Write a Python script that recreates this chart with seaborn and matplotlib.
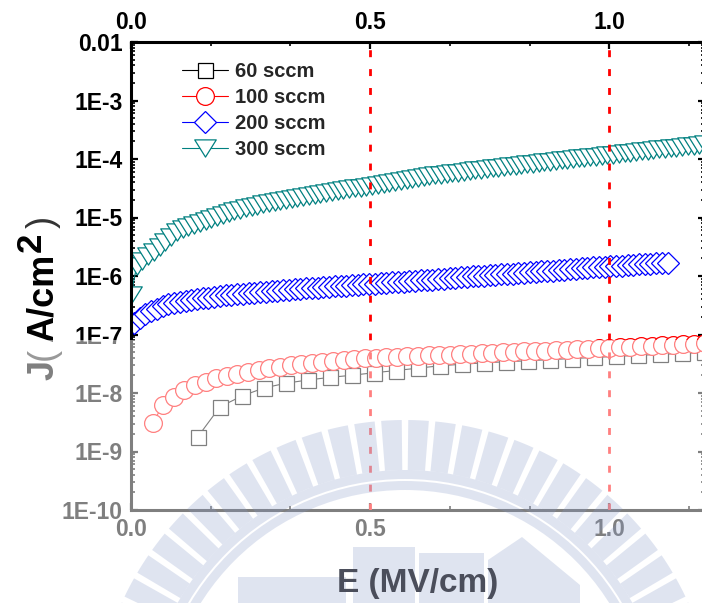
import numpy as np
import matplotlib
matplotlib.use("Agg")
import matplotlib.pyplot as plt
import seaborn as sns
from matplotlib.path import Path
from matplotlib.patches import Rectangle, Wedge, Polygon
from matplotlib.ticker import FixedLocator, FixedFormatter, MultipleLocator, LogLocator, NullFormatter
from matplotlib.transforms import Affine2D

# ---------------- data: J-E curves for four gas flow rates ----------------
LABELS = ["60 sccm", "100 sccm", "200 sccm", "300 sccm"]

E60_START, E60_STEP = 0.14, 0.046
J60 = [1.8e-9, 5.8e-9, 8.9e-9, 1.22e-8, 1.47e-8, 1.67e-8, 1.85e-8, 2.01e-8,
       2.22e-8, 2.42e-8, 2.66e-8, 2.92e-8, 3.10e-8, 3.28e-8, 3.42e-8, 3.56e-8,
       3.72e-8, 3.88e-8, 4.05e-8, 4.22e-8, 4.40e-8, 4.57e-8, 4.75e-8, 4.95e-8]

E100_START, E100_STEP = 0.045, 0.0222
J100 = [3.10e-9, 6.19e-9, 8.65e-9, 1.125e-8, 1.37e-8, 1.56e-8, 1.78e-8, 1.95e-8,
        2.11e-8, 2.31e-8, 2.47e-8, 2.64e-8, 2.82e-8, 3.01e-8, 3.13e-8, 3.30e-8,
        3.43e-8, 3.56e-8, 3.66e-8, 3.81e-8, 3.92e-8, 4.01e-8, 4.07e-8, 4.18e-8,
        4.25e-8, 4.32e-8, 4.39e-8, 4.46e-8, 4.53e-8, 4.60e-8, 4.68e-8, 4.76e-8,
        4.85e-8, 4.94e-8, 5.04e-8, 5.13e-8, 5.22e-8, 5.32e-8, 5.42e-8, 5.52e-8,
        5.62e-8, 5.73e-8, 5.83e-8, 5.94e-8, 6.05e-8, 6.17e-8, 6.28e-8, 6.40e-8,
        6.52e-8, 6.64e-8, 6.76e-8, 6.89e-8, 7.02e-8]

E200_START, E200_STEP = 0.006, 0.012
J200 = [1.57e-7, 1.91e-7, 2.24e-7, 2.52e-7, 2.78e-7, 3.07e-7, 3.26e-7, 3.45e-7,
        3.62e-7, 3.77e-7, 3.92e-7, 4.05e-7, 4.18e-7, 4.29e-7, 4.41e-7, 4.53e-7,
        4.65e-7, 4.75e-7, 4.85e-7, 4.97e-7, 5.06e-7, 5.18e-7, 5.28e-7, 5.41e-7,
        5.52e-7, 5.64e-7, 5.77e-7, 5.86e-7, 5.94e-7, 6.04e-7, 6.14e-7, 6.24e-7,
        6.34e-7, 6.44e-7, 6.53e-7, 6.64e-7, 6.75e-7, 6.86e-7, 6.97e-7, 7.08e-7,
        7.18e-7, 7.29e-7, 7.41e-7, 7.53e-7, 7.66e-7, 7.78e-7, 7.91e-7, 8.05e-7,
        8.18e-7, 8.32e-7, 8.43e-7, 8.57e-7, 8.71e-7, 8.86e-7, 9.01e-7, 9.17e-7,
        9.32e-7, 9.48e-7, 9.64e-7, 9.81e-7, 9.97e-7, 1.01e-6, 1.03e-6, 1.05e-6,
        1.07e-6, 1.09e-6, 1.10e-6, 1.12e-6, 1.14e-6, 1.16e-6, 1.18e-6, 1.20e-6,
        1.22e-6, 1.24e-6, 1.26e-6, 1.29e-6, 1.31e-6, 1.33e-6, 1.35e-6, 1.38e-6,
        1.40e-6, 1.42e-6, 1.44e-6, 1.47e-6, 1.49e-6, 1.51e-6, 1.53e-6, 1.55e-6,
        1.58e-6, 1.60e-6, 1.62e-6, 1.65e-6, 1.67e-6, 1.70e-6]

E300_START, E300_STEP = 0.0, 0.012
J300 = [4.73e-7, 1.48e-6, 1.80e-6, 2.20e-6, 2.57e-6, 3.13e-6, 3.81e-6, 4.65e-6,
        5.65e-6, 6.35e-6, 6.89e-6, 7.45e-6, 8.05e-6, 8.71e-6, 9.42e-6, 1.02e-5,
        1.10e-5, 1.19e-5, 1.27e-5, 1.34e-5, 1.43e-5, 1.51e-5, 1.59e-5, 1.67e-5,
        1.75e-5, 1.84e-5, 1.91e-5, 1.99e-5, 2.07e-5, 2.15e-5, 2.24e-5, 2.33e-5,
        2.43e-5, 2.52e-5, 2.62e-5, 2.73e-5, 2.84e-5, 2.95e-5, 3.05e-5, 3.14e-5,
        3.24e-5, 3.35e-5, 3.45e-5, 3.60e-5, 3.74e-5, 3.89e-5, 4.05e-5, 4.21e-5,
        4.38e-5, 4.55e-5, 4.73e-5, 4.92e-5, 5.12e-5, 5.26e-5, 5.41e-5, 5.56e-5,
        5.71e-5, 5.87e-5, 6.04e-5, 6.21e-5, 6.38e-5, 6.56e-5, 6.75e-5, 6.93e-5,
        7.13e-5, 7.31e-5, 7.50e-5, 7.69e-5, 7.89e-5, 8.11e-5, 8.32e-5, 8.53e-5,
        8.75e-5, 8.97e-5, 9.20e-5, 9.44e-5, 9.68e-5, 9.93e-5, 1.02e-4, 1.05e-4,
        1.07e-4, 1.10e-4, 1.13e-4, 1.16e-4, 1.19e-4, 1.22e-4, 1.25e-4, 1.28e-4,
        1.32e-4, 1.35e-4, 1.39e-4, 1.42e-4, 1.46e-4, 1.50e-4, 1.53e-4, 1.57e-4,
        1.62e-4, 1.66e-4, 1.70e-4, 1.75e-4, 1.79e-4]

Y_TICKS = [1e-10, 1e-9, 1e-8, 1e-7, 1e-6, 1e-5, 1e-4, 1e-3, 1e-2]
Y_TICK_LABELS = ["1E-10", "1E-9", "1E-8", "1E-7", "1E-6", "1E-5", "1E-4", "1E-3", "0.01"]
X_TICKS = [0.0, 0.5, 1.0]
X_TICK_LABELS = ["0.0", "0.5", "1.0"]
REF_FIELDS = [0.5, 1.0]


def sweep(start, step, values):
    return start + step * np.arange(len(values))


# ---------------- styling ----------------
sns.set_theme(style="ticks")
plt.rcParams["font.family"] = ["Liberation Sans", "DejaVu Sans"]
plt.rcParams["font.weight"] = "bold"
plt.rcParams["axes.edgecolor"] = "black"
plt.rcParams["xtick.color"] = "black"
plt.rcParams["ytick.color"] = "black"

W_PX, H_PX = 702, 603
fig = plt.figure(figsize=(W_PX / 100, H_PX / 100), dpi=100)
PX = Affine2D().scale(1 / 100) + fig.dpi_scale_trans  # pixel coordinates, origin bottom-left

ax_left, ax_right, ax_top, ax_bottom = 131, 705, 42, 510
ax = fig.add_axes([ax_left / W_PX, 1 - ax_bottom / H_PX,
                   (ax_right - ax_left) / W_PX, (ax_bottom - ax_top) / H_PX])

tri_down = Path([(-1, 0.8), (1, 0.8), (0, -0.8), (-1, 0.8)],
                [Path.MOVETO, Path.LINETO, Path.LINETO, Path.CLOSEPOLY])

series = [
    (sweep(E60_START, E60_STEP, J60), J60, "black", "s", 10.8),
    (sweep(E100_START, E100_STEP, J100), J100, "red", "o", 12.8),
    (sweep(E200_START, E200_STEP, J200), J200, "blue", "D", 11.0),
    (sweep(E300_START, E300_STEP, J300), J300, "#008080", tri_down, 15.5),
]
for (e, j, col, mk, ms), lab in zip(series, LABELS):
    sns.lineplot(x=e, y=j, ax=ax, color=col, marker=mk, markersize=ms,
                 markerfacecolor="white", markeredgecolor=col, markeredgewidth=0.9,
                 linewidth=0.8, label=lab, estimator=None, sort=False)

for xv in REF_FIELDS:
    ax.axvline(xv, color="red", linewidth=2.0, dashes=(2.5, 4.3), zorder=5)

ax.set_yscale("log")
ax.set_xlim(0, 1.2)
ax.set_ylim(1e-10, 1e-2)
ax.set_xlabel("")
ax.set_ylabel("")

ax.yaxis.set_major_locator(FixedLocator(Y_TICKS))
ax.yaxis.set_major_formatter(FixedFormatter(Y_TICK_LABELS))
ax.yaxis.set_minor_locator(LogLocator(base=10, subs=np.arange(2, 10), numticks=100))
ax.yaxis.set_minor_formatter(NullFormatter())
ax.xaxis.set_major_locator(FixedLocator(X_TICKS))
ax.xaxis.set_major_formatter(FixedFormatter(X_TICK_LABELS))
ax.xaxis.set_minor_locator(MultipleLocator(0.5 / 3))

for sp in ax.spines.values():
    sp.set_linewidth(2.2)
    sp.set_color("black")
    sp.set_visible(True)
ax.tick_params(which="both", direction="in", top=True, right=True,
               labeltop=True, labelbottom=True, labelright=False)
ax.tick_params(which="major", length=5, width=1.6, labelsize=16.5, pad=6)
ax.tick_params(which="minor", length=3, width=1.2)

leg = ax.legend(loc="upper left", bbox_to_anchor=(0.088, 0.958), frameon=False,
                fontsize=14.5, handlelength=2.33, handletextpad=0.35,
                labelspacing=0.36, borderpad=0, borderaxespad=0)
for t in leg.get_texts():
    t.set_fontweight("bold")

# x-axis title
fig.text(418, H_PX - 592, "E (MV/cm)", transform=PX, ha="center", va="baseline",
         fontsize=24, fontweight="bold", color="#4b4e5b", zorder=12)

# y-axis title built piece by piece so the exponent sits raised at its own size
fig.canvas.draw()
renderer = fig.canvas.get_renderer()
pieces = [
    ("J", dict(fontsize=26, fontweight="bold", color="black"), 0, 0),
    ("(", dict(fontsize=26, fontweight="normal", color="#333333"), 0, 6),
    ("A/cm", dict(fontsize=26, fontweight="bold", color="black"), 0, 2),
    ("2", dict(fontsize=25, fontweight="bold", color="black"), -12, 4),
    (")", dict(fontsize=26, fontweight="normal", color="#333333"), 0, 0),
]
ypos = H_PX - 380
for s, kw, dx, gap in pieces:
    t = fig.text(53 + dx, ypos, s, transform=PX, rotation=90, rotation_mode="anchor",
                 ha="left", va="baseline", **kw)
    ypos = t.get_window_extent(renderer).y1 + gap

# pale veil and emblem printed over the lower part of the page
fig.add_artist(Rectangle((0, 0), W_PX, H_PX - 340, transform=PX, facecolor="white",
                         edgecolor="none", alpha=0.5, zorder=10))
mark_kw = dict(transform=PX, facecolor="#8598c8", edgecolor="none", alpha=0.26, zorder=11)
cx, cy = 405, H_PX - 731
for th in np.arange(2.5, 180, 5.0):
    fig.add_artist(Wedge((cx, cy), 311, th - 1.9, th + 1.9, width=50, **mark_kw))
fig.add_artist(Wedge((cx, cy), 261, 0, 180, width=9, **mark_kw))
fig.add_artist(Wedge((cx, cy), 250, 0, 180, width=9, **mark_kw))
for x0, y0, x1 in [(353, 547, 415), (419, 553, 484), (238, 577, 346)]:
    fig.add_artist(Rectangle((x0, 0), x1 - x0, H_PX - y0, **mark_kw))
fig.add_artist(Polygon([(488, 0), (488, H_PX - 560), (522, H_PX - 537),
                        (580, H_PX - 585), (580, 0)], **mark_kw))

fig.savefig("out.png", dpi=100)
